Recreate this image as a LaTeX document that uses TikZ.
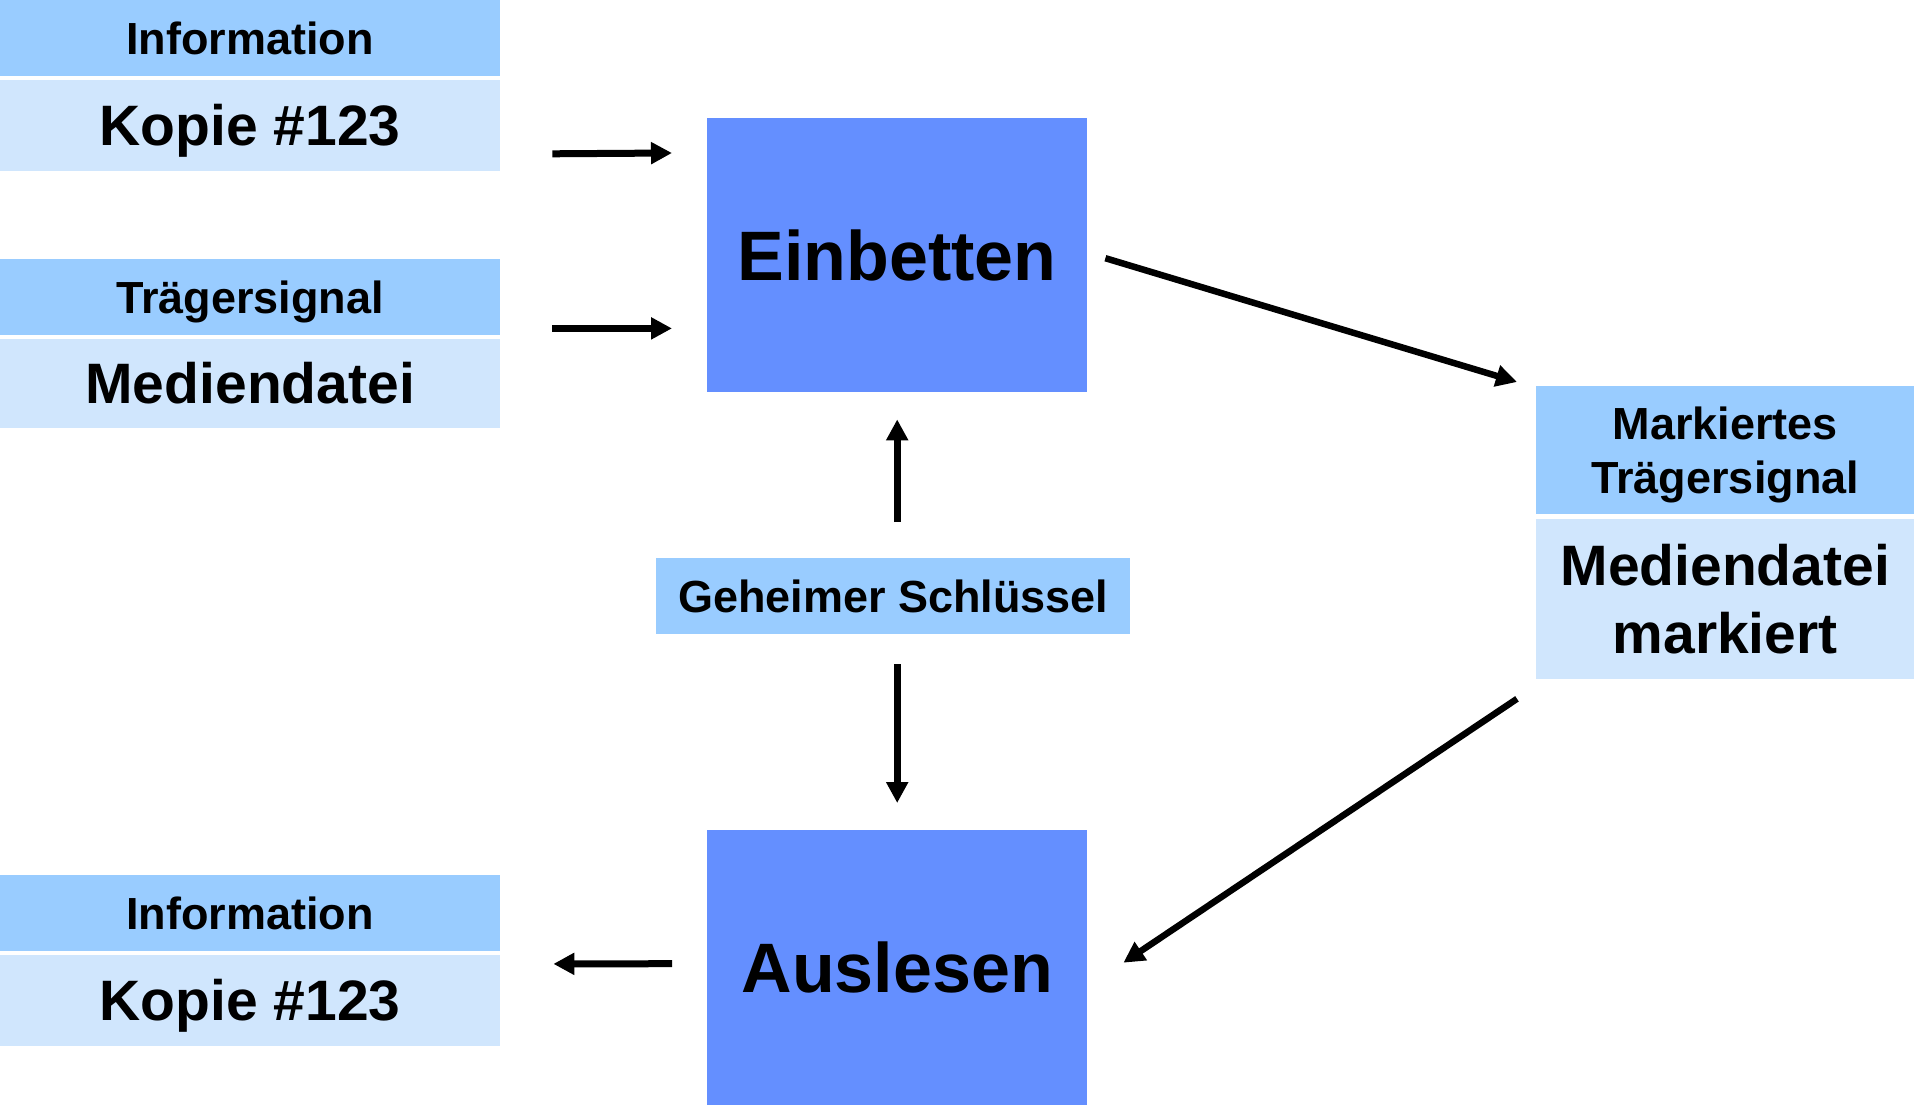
\documentclass[tikz,border=0pt]{standalone}
\usepackage{fontspec}
\setmainfont{Liberation Sans}
\usetikzlibrary{arrows.meta,positioning}
\definecolor{hdrblue}{HTML}{99CCFF}
\definecolor{valblue}{HTML}{D0E6FD}
\definecolor{procblue}{HTML}{648FFF}

\begin{document}
\begin{tikzpicture}[x=1pt,y=-1pt,>={Triangle[length=21pt,width=21pt]},
  hdr/.style={fill=hdrblue,inner sep=0pt,align=center,text depth=0pt,minimum width=500pt,minimum height=76pt,font=\fontsize{45}{54}\selectfont\bfseries},
  val/.style={fill=valblue,inner sep=0pt,align=center,text depth=0pt,minimum width=500pt,minimum height=91pt,font=\fontsize{57}{68}\selectfont\bfseries},
  proc/.style={fill=procblue,inner sep=0pt,minimum width=380pt,font=\fontsize{70}{84}\selectfont\bfseries},
  arr/.style={->,line width=7pt}]
\useasboundingbox (0,0) rectangle (1914,1105);
\node (info1) [hdr,anchor=north west] at (0,0) {Information};
\node (kop1) [val,below=3pt of info1] {Kopie \#123};
\node (trag) [hdr,anchor=north west] at (0,259) {Trägersignal};
\node (med) [val,below=3pt of trag,minimum height=89pt] {Mediendatei};
\node (einb) [proc,anchor=north west,minimum height=274pt] at (707,118) {Einbetten};
\node (key) [hdr,anchor=north west,minimum width=474pt] at (656,558) {Geheimer Schlüssel};
\node (mark) [hdr,anchor=north west,minimum width=378pt,minimum height=128pt] at (1536,386) {Markiertes\\Trägersignal};
\node (medm) [val,below=4pt of mark,minimum width=378pt,minimum height=160pt] {Mediendatei\\markiert};
\node (ausl) [proc,anchor=north west,minimum height=275pt] at (707,830) {Auslesen};
\node (info2) [hdr,anchor=north west] at (0,875) {Information};
\node (kop2) [val,below=3pt of info2] {Kopie \#123};
\draw[arr] ([xshift=52pt,yshift=17pt]kop1.south east) -- ([xshift=-35pt,yshift=-35pt]einb.north west);
\draw[arr] ([xshift=52pt,yshift=7pt]trag.south east) -- ([xshift=-35pt,yshift=64pt]einb.south west);
\draw[arr,line width=6.5pt] ([xshift=18pt,yshift=-3pt]einb.east) -- ([xshift=-19pt,yshift=4pt]mark.north west);
\draw[arr,line width=6.5pt] ([xshift=-19pt,yshift=-20pt]medm.south west) -- ([xshift=36pt,yshift=5pt]ausl.east);
\draw[arr] ([xshift=4pt,yshift=36pt]key.north) -- ([yshift=-27pt]einb.south);
\draw[arr] ([xshift=4pt,yshift=-30pt]key.south) -- ([yshift=27pt]ausl.north);
\draw[arr] ([xshift=-35pt,yshift=4pt]ausl.west) -- ([xshift=53pt,yshift=-9.5pt]kop2.north east);
\end{tikzpicture}
\end{document}
